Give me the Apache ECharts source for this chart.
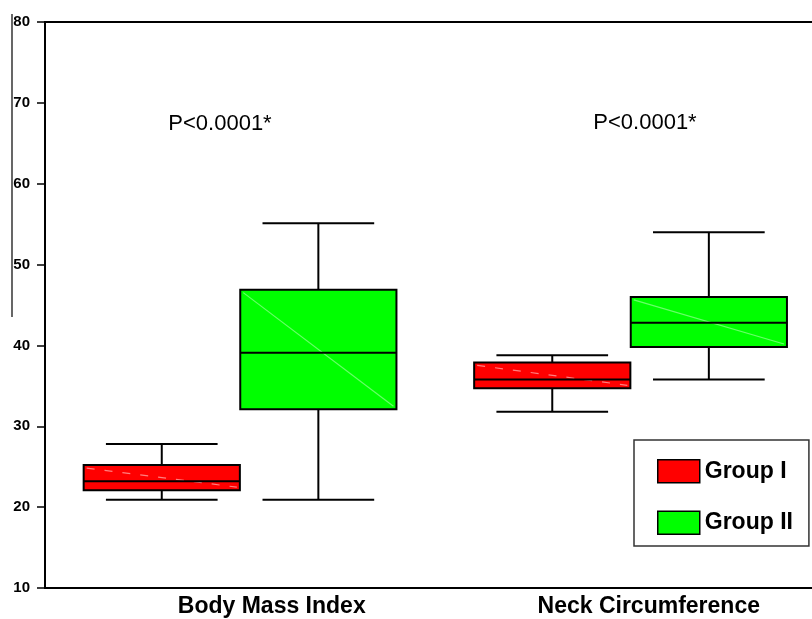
<!DOCTYPE html>
<html>
<head>
<meta charset="utf-8">
<title>Body Mass Index and Neck Circumference by group</title>
<script src="https://cdn.jsdelivr.net/npm/echarts@6/dist/echarts.min.js"></script>
<style>
  html, body { margin: 0; padding: 0; background: #fff; }
  #chart { width: 812px; height: 619px; }
</style>
</head>
<body>
<div id="chart"></div>
<script>
// Measures shown on the x axis
const categories = ['Body Mass Index', 'Neck Circumference'];

// Box statistics per measure: [min, Q1, median, Q3, max]
const groupIStats = [
  [20.9, 22.1, 23.2, 25.2, 27.8],
  [31.8, 34.7, 35.8, 37.9, 38.8]
];
const groupIIStats = [
  [20.9, 32.1, 39.1, 46.9, 55.1],
  [35.8, 39.8, 42.8, 46.0, 54.0]
];

// Group names and significance notes
const groupNames = ['Group I', 'Group II'];
const pLabels = ['P<0.0001*', 'P<0.0001*'];

// Y axis scale
const yMin = 10;
const yMax = 80;
const yStep = 10;

const FILL = ['#ff0000', '#00ff00'];
const SHEEN = ['rgba(255,170,170,0.75)', 'rgba(140,255,140,0.75)'];
const BOX_OFFSET = [-0.201, 0.2];   // fraction of the category band
const BOX_HALF = 0.2;
const CAP_HALF = 0.143;

function toRows(stats) {
  return stats.map((s, i) => [i].concat(s));
}

function renderBox(params, api) {
  const si = params.seriesIndex;
  const cat = api.value(0);
  const vals = [1, 2, 3, 4, 5].map(d => api.coord([cat, api.value(d)])[1]);
  const [yLo, yQ1, yMed, yQ3, yHi] = vals;
  const band = api.size([1, 0])[0];
  const cx = api.coord([cat, api.value(3)])[0] + BOX_OFFSET[si] * band;
  const half = BOX_HALF * band;
  const cap = CAP_HALF * band;
  const line = { stroke: '#000', lineWidth: 2 };
  return {
    type: 'group',
    children: [
      { type: 'line', shape: { x1: cx, y1: yHi, x2: cx, y2: yQ3 }, style: line },
      { type: 'line', shape: { x1: cx, y1: yQ1, x2: cx, y2: yLo }, style: line },
      { type: 'line', shape: { x1: cx - cap, y1: yHi, x2: cx + cap, y2: yHi }, style: line },
      { type: 'line', shape: { x1: cx - cap, y1: yLo, x2: cx + cap, y2: yLo }, style: line },
      {
        type: 'rect',
        shape: { x: cx - half, y: yQ3, width: 2 * half, height: yQ1 - yQ3 },
        style: { fill: FILL[si], stroke: '#000', lineWidth: 2 }
      },
      {
        type: 'line',
        shape: { x1: cx - half + 3, y1: yQ3 + 3, x2: cx + half - 3, y2: yQ1 - 3 },
        style: { stroke: SHEEN[si], lineWidth: 1.2, lineDash: si === 0 ? [8, 10] : null }
      },
      { type: 'line', shape: { x1: cx - half, y1: yMed, x2: cx + half, y2: yMed }, style: line }
    ]
  };
}

const chart = echarts.init(document.getElementById('chart'), null, { renderer: 'canvas' });

const option = {
  backgroundColor: '#ffffff',
  animation: false,
  grid: {
    left: 45, width: 781, top: 22, bottom: 31,
    outerBoundsMode: 'none',
    containLabel: false,
    show: true, borderColor: '#000', borderWidth: 2
  },
  legend: {
    left: 634, top: 440,
    orient: 'vertical',
    itemWidth: 42, itemHeight: 23, itemGap: 27,
    padding: [19, 16, 11, 23],
    borderColor: '#333', borderWidth: 1.5,
    backgroundColor: '#fff',
    textStyle: { fontFamily: 'Liberation Sans, Arial, sans-serif', fontWeight: 'bold', fontSize: 23, color: '#000' },
    data: groupNames.map((n, i) => ({
      name: n,
      icon: 'rect',
      itemStyle: { color: FILL[i], borderColor: '#000', borderWidth: 1.5 }
    }))
  },
  xAxis: {
    type: 'category',
    data: categories,
    boundaryGap: true,
    axisLine: { lineStyle: { color: '#000', width: 2 } },
    axisTick: { alignWithLabel: true, length: 5, lineStyle: { color: '#000', width: 1.5 } },
    axisLabel: {
      margin: 7,
      color: '#000',
      fontFamily: 'Liberation Sans, Arial, sans-serif',
      fontWeight: 'bold',
      fontSize: 23,
      formatter: v => (v === categories[0] ? '{a|' + v + '}' : '{b|' + v + '}'),
      rich: {
        a: { padding: [0, 0, 0, 63], fontFamily: 'Liberation Sans, Arial, sans-serif', fontWeight: 'bold', fontSize: 23, color: '#000' },
        b: { padding: [0, 0, 0, 36], fontFamily: 'Liberation Sans, Arial, sans-serif', fontWeight: 'bold', fontSize: 23, color: '#000' }
      }
    },
    splitLine: { show: false }
  },
  yAxis: {
    type: 'value',
    min: yMin, max: yMax, interval: yStep,
    axisLine: { show: true, lineStyle: { color: '#000', width: 2 } },
    axisTick: { show: true, length: 8, lineStyle: { color: '#000', width: 1.5 } },
    axisLabel: {
      margin: 15,
      color: '#000',
      fontFamily: 'Liberation Sans, Arial, sans-serif',
      fontWeight: 'bold',
      fontSize: 15
    },
    splitLine: { show: false }
  },
  series: [groupIStats, groupIIStats].map((stats, i) => ({
    name: groupNames[i],
    type: 'custom',
    itemStyle: { color: FILL[i], borderColor: '#000' },
    renderItem: renderBox,
    encode: { x: 0, y: [1, 2, 3, 4, 5] },
    data: toRows(stats)
  })),
  graphic: [
    {
      type: 'line',
      shape: { x1: 12, y1: 14, x2: 12, y2: 317 },
      style: { stroke: '#000', lineWidth: 1.2 }
    },
    {
      type: 'text', x: 220, y: 124,
      style: {
        text: pLabels[0], align: 'center', verticalAlign: 'middle',
        font: '22px "Liberation Sans", Arial, sans-serif', fill: '#000'
      }
    },
    {
      type: 'text', x: 645, y: 123,
      style: {
        text: pLabels[1], align: 'center', verticalAlign: 'middle',
        font: '22px "Liberation Sans", Arial, sans-serif', fill: '#000'
      }
    }
  ]
};

chart.setOption(option);
</script>
</body>
</html>
